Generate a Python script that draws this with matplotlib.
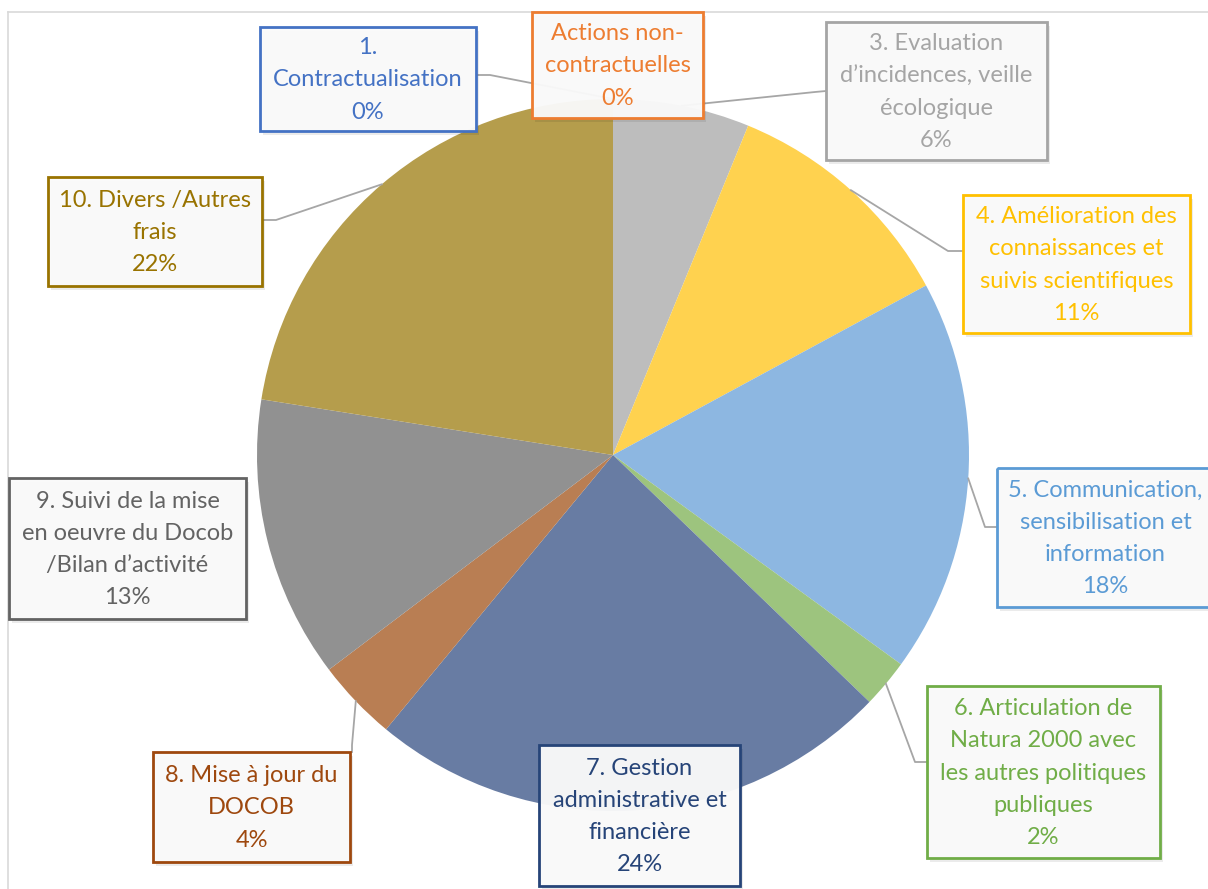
import numpy as np
import matplotlib
matplotlib.use("Agg")
import matplotlib.pyplot as plt
from matplotlib.patches import Rectangle

plt.rcParams['font.family'] = ['Lato', 'DejaVu Sans']

# data
labels = ["1.\nContractualisation",
          "Actions non-\ncontractuelles",
          "3. Evaluation\nd’incidences, veille\nécologique",
          "4. Amélioration des\nconnaissances et\nsuivis scientifiques",
          "5. Communication,\nsensibilisation et\ninformation",
          "6. Articulation de\nNatura 2000 avec\nles autres politiques\npubliques",
          "7. Gestion\nadministrative et\nfinancière",
          "8. Mise à jour du\nDOCOB",
          "9. Suivi de la mise\nen oeuvre du Docob\n/Bilan d’activité",
          "10. Divers /Autres\nfrais"]
values = [0, 0, 6.2, 10.9, 17.9, 2.2, 23.8, 3.7, 12.8, 22.5]

slice_colors = ['#8FAADC', '#F4B183', '#BDBDBD', '#FFD24F', '#8DB7E1',
                '#9DC47E', '#687CA3', '#B97E53', '#919191', '#B59D4C']
text_colors = ['#4472C4', '#ED7D31', '#A5A5A5', '#FFC000', '#5B9BD5',
               '#70AD47', '#264478', '#9E480E', '#636363', '#997300']

# layout (pixel coords): label boxes and leader attach points
boxes = [(260, 27, 476, 131), (532, 12, 703, 118), (826, 22, 1047, 160),
         (963, 195, 1190, 333), (997, 468, 1214, 607), (927, 686, 1160, 858),
         (539, 745, 740, 886), (153, 752, 350, 862), (9, 478, 246, 619),
         (48, 177, 262, 286)]
leaders = {0: [(476, 75), (490, 75)],
           2: [(826, 91), (815, 92)],
           3: [(963, 251), (948, 251)],
           4: [(997, 527), (985, 527)],
           5: [(927, 762), (915, 762)],
           7: [(352, 752), (352, 745)],
           9: [(262, 220), (276, 220)]}

W, H = 1208, 889
fig = plt.figure(figsize=(W / 100, H / 100), dpi=100)
ax = fig.add_axes([0, 0, 1, 1])

cx, cy, R = 613, 455, 356
wedges, _ = ax.pie(values, colors=slice_colors, startangle=-90, counterclock=True,
                   center=(cx, cy), radius=R, wedgeprops=dict(linewidth=0))
ax.set_aspect('auto')
ax.set_xlim(0, W)
ax.set_ylim(H, 0)
ax.axis('off')

# chart frame
ax.plot([8, W], [12, 12], color='#D9D9D9', lw=1.2, zorder=0)
ax.plot([8, 8], [12, H], color='#D9D9D9', lw=1.2, zorder=0)

total = sum(values)
for i, w in enumerate(wedges):
    mid = np.deg2rad((w.theta1 + w.theta2) / 2)
    ax_x = cx + R * np.cos(mid)
    ax_y = cy + R * np.sin(mid)
    if i in leaders:
        pts = leaders[i] + [(ax_x, ax_y)]
        ax.plot([p[0] for p in pts], [p[1] for p in pts], color='#A6A6A6', lw=1.3, zorder=2)

for i, (x0, y0, x1, y1) in enumerate(boxes):
    ax.add_patch(Rectangle((x0 + 3, y0 + 4), x1 - x0, y1 - y0, fc='black', ec='none',
                           alpha=0.08, zorder=3))
    ax.add_patch(Rectangle((x0, y0), x1 - x0, y1 - y0, fc='#FAFAFA', ec='none',
                           alpha=0.96, zorder=4))
    ax.add_patch(Rectangle((x0, y0), x1 - x0, y1 - y0, fc='none', ec=text_colors[i],
                           lw=2.0, zorder=4))
    pct = round(values[i] / total * 100)
    ax.text((x0 + x1) / 2, (y0 + y1) / 2 + 1, labels[i] + "\n%d%%" % pct,
            ha='center', va='center', multialignment='center', color=text_colors[i],
            fontsize=17, linespacing=1.66, zorder=5)

fig.savefig('out.png', dpi=100)
